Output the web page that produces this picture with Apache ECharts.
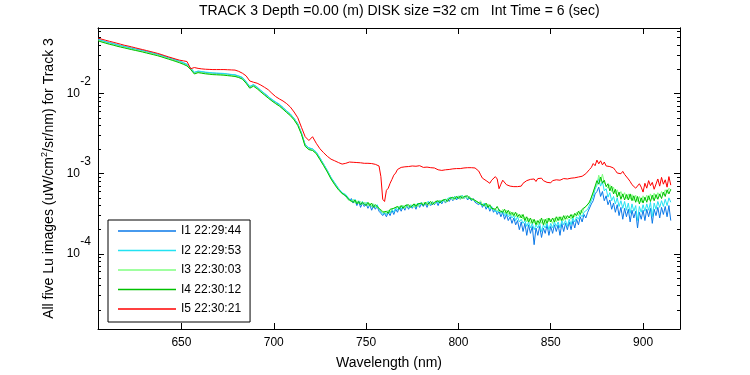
<!DOCTYPE html>
<html>
<head>
<meta charset="utf-8">
<script src="https://cdn.jsdelivr.net/npm/echarts@6/dist/echarts.min.js"></script>
<style>
  html, body { margin: 0; padding: 0; background: #fff; }
  #chart { width: 750px; height: 375px; }
</style>
</head>
<body>
<div id="chart"></div>
<script>
// wavelength grid (nm): 2 nm steps up to 739, 1 nm steps from 740 on
var wavelength = [
  605,607,609,611,613,615,617,619,621,623,
  625,627,629,631,633,635,637,639,641,643,
  645,647,649,651,653,655,657,659,661,663,
  665,667,669,671,673,675,677,679,681,683,
  685,687,689,691,693,695,697,699,701,703,
  705,707,709,711,713,715,717,719,721,723,
  725,727,729,731,733,735,737,739,
  740,741,742,743,744,745,746,747,748,749,
  750,751,752,753,754,755,756,757,758,759,
  760,761,762,763,764,765,766,767,768,769,
  770,771,772,773,774,775,776,777,778,779,
  780,781,782,783,784,785,786,787,788,789,
  790,791,792,793,794,795,796,797,798,799,
  800,801,802,803,804,805,806,807,808,809,
  810,811,812,813,814,815,816,817,818,819,
  820,821,822,823,824,825,826,827,828,829,
  830,831,832,833,834,835,836,837,838,839,
  840,841,842,843,844,845,846,847,848,849,
  850,851,852,853,854,855,856,857,858,859,
  860,861,862,863,864,865,866,867,868,869,
  870,871,872,873,874,875,876,877,878,879,
  880,881,882,883,884,885,886,887,888,889,
  890,891,892,893,894,895,896,897,898,899,
  900,901,902,903,904,905,906,907,908,909,
  910,911,912,913,914,915
];

// Lu values, in units of 1e-4 uW/cm^2/sr/nm
var UNIT = 1e-4;

var lu1 = [
  474,458,444,431,420,408,397,388,379,369,
  361,353,344,335,327,318,310,301,290,281,
  271,262,253,242,231,208,183,190,187,184,
  182,180,179,178,177,175,173,171,165,158,
  140,122,129,120,109,100,92,84,78,73,
  67,60,55,49,42,32,23,21,20.3,18.5,
  15.6,13.1,10.9,8.9,7.6,6.5,5.7,5.2,
  5.0,4.6,4.9,4.3,4.6,4.0,4.5,3.8,4.3,3.9,
  4.2,3.7,4.1,3.5,4.0,3.6,3.9,3.4,3.2,3.0,
  3.2,2.9,3.3,3.0,3.5,3.1,3.6,3.3,3.8,3.4,
  3.9,3.5,4.0,3.6,4.0,3.7,4.1,3.6,4.2,3.8,
  4.2,3.9,4.3,3.8,4.4,4.0,4.4,4.1,4.5,4.0,
  4.6,4.2,4.7,4.3,4.8,4.5,5.0,4.6,5.2,4.7,
  5.2,4.8,5.3,4.9,5.2,4.7,5.1,4.6,4.9,4.4,
  4.6,4.1,4.4,3.8,4.2,3.6,4.0,3.4,3.8,3.3,
  3.6,3.1,3.4,2.9,3.3,2.7,3.1,2.6,2.9,2.4,
  2.8,2.3,2.6,2.0,2.5,1.9,2.4,1.7,2.3,1.8,
  2.2,1.3,2.1,1.7,2.2,1.6,2.1,1.8,2.3,1.7,
  2.2,1.8,2.3,1.9,2.3,1.7,2.4,1.9,2.4,2.0,
  2.5,2.0,2.6,2.1,2.7,2.3,2.9,2.5,3.1,2.8,
  3.3,3.4,4.2,4.6,5.6,6.0,6.8,5.2,6.0,4.6,
  5.3,4.1,4.7,3.6,4.3,3.3,4.1,3.0,3.8,2.7,
  3.7,2.9,3.6,2.5,3.5,2.8,3.4,2.1,3.3,2.7,
  3.5,2.6,3.6,2.9,3.7,2.4,3.6,3.0,3.8,2.8,
  3.8,3.1,3.9,2.9,4.0,2.6
];

var lu2 = [
  479,462,448,435,424,412,401,392,382,373,
  364,356,348,338,330,321,313,303,293,284,
  274,265,255,245,233,210,185,192,189,186,
  184,182,181,180,179,176,174,172,167,160,
  142,123,130,121,110,101,92,85,79,74,
  67,61,56,49,42,32.5,23.1,21,20.5,18.7,
  15.8,13.2,11.0,9.0,7.7,6.6,5.8,5.5,
  5.2,4.8,5.0,4.5,4.8,4.3,4.6,4.2,4.5,4.1,
  4.4,4.1,4.3,3.9,4.2,3.8,4.1,3.6,3.4,3.1,
  3.3,3.1,3.5,3.2,3.6,3.3,3.8,3.5,3.9,3.6,
  4.0,3.7,4.1,3.8,4.1,3.8,4.2,3.9,4.3,4.0,
  4.4,4.0,4.3,4.1,4.5,4.1,4.5,4.2,4.6,4.3,
  4.7,4.4,4.8,4.5,4.9,4.7,5.1,4.8,5.2,4.9,
  5.3,5.0,5.4,5.0,5.3,4.9,5.2,4.8,5.0,4.6,
  4.7,4.3,4.5,4.0,4.3,3.9,4.1,3.6,3.9,3.5,
  3.7,3.3,3.6,3.2,3.4,3.0,3.3,2.9,3.1,2.8,
  3.0,2.6,2.9,2.5,2.7,2.4,2.6,2.2,2.5,2.1,
  2.4,2.0,2.3,2.1,2.4,1.9,2.3,2.1,2.4,2.0,
  2.4,2.1,2.5,2.2,2.5,2.1,2.6,2.3,2.6,2.2,
  2.7,2.3,2.8,2.5,2.9,2.7,3.1,2.9,3.3,3.2,
  3.6,3.8,4.6,5.2,6.4,7.2,8.7,7.0,8.0,6.1,
  6.5,5.1,5.8,4.6,5.2,4.2,5.0,3.9,4.6,3.7,
  4.5,3.5,4.3,3.2,4.2,3.4,4.0,2.6,3.9,3.3,
  4.1,3.4,4.2,3.5,4.4,2.9,4.3,3.6,4.5,3.8,
  4.6,3.9,4.8,4.0,5.0,4.4
];

var lu3 = [
  463,447,433,420,410,398,388,379,369,360,
  352,344,336,327,319,311,302,293,283,274,
  265,256,247,236,225,203,179,186,183,180,
  178,176,175,174,173,171,168,166,161,154,
  137,119,126,117,107,97,89,82,76,71,
  65,59,54,48,41,31.5,22.3,20.3,19.8,18.1,
  15.2,12.8,10.7,8.7,7.4,6.4,5.6,5.3,
  4.8,5.0,4.5,4.8,4.3,4.6,4.2,4.5,4.1,4.4,
  4.3,4.0,4.3,3.9,4.2,3.9,4.1,3.7,3.6,3.4,
  3.4,3.2,3.5,3.3,3.6,3.4,3.8,3.6,3.9,3.7,
  4.0,3.7,4.1,3.8,4.0,4.1,3.8,4.2,3.9,4.2,
  4.0,4.3,4.1,4.4,4.0,4.2,4.5,4.2,4.5,4.3,
  4.6,4.4,4.7,4.4,4.8,4.6,5.0,4.7,5.1,4.9,
  5.2,4.8,5.3,4.9,5.2,4.9,5.2,4.8,5.0,4.6,
  4.8,4.3,4.6,4.1,4.3,3.9,4.2,3.8,4.0,3.6,
  3.8,3.5,3.7,3.3,3.6,3.2,3.5,3.1,3.4,3.0,
  3.3,2.9,3.2,2.8,3.1,2.7,2.9,2.5,2.8,2.4,
  2.7,2.4,2.6,2.3,2.7,2.4,2.7,2.3,2.8,2.5,
  2.7,2.4,2.8,2.5,2.9,2.6,2.9,2.6,3.0,2.7,
  3.0,2.7,3.1,2.9,3.3,3.0,3.5,3.2,3.7,3.5,
  4.1,3.9,5.0,5.2,6.8,7.4,9.6,8.0,9.9,7.7,
  7.8,6.6,7.3,6.0,6.8,5.6,6.3,5.3,6.0,5.1,
  5.8,4.9,5.6,4.8,5.5,4.6,5.4,4.5,5.2,4.4,
  5.3,4.6,5.4,4.7,5.6,4.8,5.7,4.9,5.8,5.2,
  6.0,5.4,6.3,5.7,6.6,6.2
];

var lu4 = [
  456,440,427,414,404,392,382,373,364,355,
  347,339,331,322,314,306,298,289,279,270,
  261,252,243,233,222,200,176,183,180,177,
  175,173,172,171,170,168,166,164,159,152,
  135,117,124,115,105,96,88,81,75,70,
  64,58,53,47,40,31,22,20,19.5,17.8,
  15,12.6,10.5,8.6,7.3,6.3,5.7,5.3,
  5.1,4.7,4.9,4.4,4.7,4.2,4.5,4.1,4.4,4.3,
  4.0,4.4,4.0,4.3,3.8,4.1,3.9,3.7,3.5,3.3,
  3.2,3.4,3.2,3.6,3.4,3.7,3.5,3.9,3.6,4.0,
  3.7,4.0,3.8,4.1,3.8,3.9,4.2,3.9,4.2,4.0,
  4.3,4.0,4.4,4.1,4.2,4.5,4.1,4.4,4.2,4.6,
  4.3,4.6,4.4,4.8,4.5,4.9,4.7,5.1,4.8,5.2,
  4.9,5.3,4.9,5.2,5.0,5.3,4.9,5.1,4.8,4.9,
  4.5,4.7,4.2,4.4,4.0,4.3,3.8,4.1,3.7,3.9,
  3.6,3.9,3.5,3.6,3.3,3.6,3.2,3.5,3.1,3.3,
  3.0,3.3,2.9,3.1,2.8,3.1,2.6,2.9,2.5,2.8,
  2.4,2.7,2.3,2.6,2.4,2.8,2.3,2.7,2.4,2.8,
  2.5,2.8,2.5,2.9,2.6,2.9,2.6,3.0,2.7,3.0,
  2.8,3.1,2.8,3.2,3.0,3.4,3.1,3.6,3.4,3.9,
  3.7,4.4,4.5,5.9,6.0,8.2,7.4,9.1,7.6,8.3,
  6.9,7.5,6.1,7.0,5.6,6.4,5.1,5.9,4.8,5.6,
  4.7,5.5,4.7,5.6,4.6,5.3,4.4,5.2,4.2,5.0,
  4.3,5.1,4.4,5.3,4.5,5.4,4.6,5.5,4.8,5.6,
  4.9,5.9,5.2,6.3,5.6,6.4
];

var lu5 = [
  493,478,464,451,439,427,415,403,394,384,
  374,364,355,346,337,328,319,309,298,288,
  279,270,262,257,252,205,212,207,204,202,
  201,200,200,200,200,199,198,197,190,180,
  167,144,139,135,128,120,112,101,92,86,
  81,75,68,59,50,38,29,26,29,24,
  20.5,18.3,16.5,15.2,14.5,13.8,13.2,13.5,
  13.5,14.0,13.4,13.9,13.3,13.8,13.4,13.7,13.1,13.5,
  13.2,13.5,13.0,13.4,12.8,13.1,12.7,12.5,9.2,4.8,
  4.5,6.2,6.6,7.6,8.5,9.6,10.2,11.3,11.5,12.0,
  11.7,12.2,11.8,12.3,12.0,12.5,12.1,12.4,12.0,12.6,
  12.2,12.0,12.5,12.1,12.4,11.9,12.2,11.8,11.6,11.2,
  11.4,11.0,11.6,11.2,11.7,11.3,11.7,11.5,11.9,11.6,
  11.9,11.6,12.1,11.8,12.2,11.9,12.3,11.9,12.2,11.8,
  11.9,10.8,9.7,8.8,8.4,8.2,8.0,7.6,8.3,8.6,
  9.2,8.6,6.5,7.4,8.3,8.0,7.3,7.6,7.0,7.3,
  6.9,7.3,6.9,7.1,7.0,7.6,7.8,8.2,8.0,8.5,
  8.1,8.6,8.0,8.7,8.4,8.8,8.2,8.5,7.8,8.1,
  7.7,8.2,7.9,8.4,8.0,8.3,8.2,8.7,8.3,8.6,
  8.4,8.8,8.5,8.9,8.6,9.1,8.8,9.3,9.5,10.0,
  10.2,11.3,12.0,13.4,12.6,14.8,13.3,14.5,12.9,14.0,
  12.5,13.2,12.3,13.0,11.8,11.0,10.2,10.8,10.0,10.7,
  9.8,10.2,8.6,8.0,7.3,7.0,6.6,6.3,7.5,6.8,
  5.9,7.6,6.6,8.2,7.1,7.8,6.4,6.1,8.6,7.0,
  9.0,7.4,8.4,6.8,9.2,7.2
];

var seriesNames = ['I1 22:29:44', 'I2 22:29:53', 'I3 22:30:03', 'I4 22:30:12', 'I5 22:30:21'];
var seriesColors = ['#0a78e8', '#22e2f2', '#80ff80', '#00c000', '#ff0000'];
var seriesValues = [lu1, lu2, lu3, lu4, lu5];

var xTicks = [650, 700, 750, 800, 850, 900];
var yMajorTicks = [1e-4, 1e-3, 1e-2];
var yMinorTicks = [
  2e-5, 3e-5, 4e-5, 5e-5, 6e-5, 7e-5, 8e-5, 9e-5,
  2e-4, 3e-4, 4e-4, 5e-4, 6e-4, 7e-4, 8e-4, 9e-4,
  2e-3, 3e-3, 4e-3, 5e-3, 6e-3, 7e-3, 8e-3, 9e-3,
  2e-2, 3e-2, 4e-2, 5e-2, 6e-2
];

var X_MIN = 604.8, X_MAX = 920;
var Y_MIN = 1.15e-5, Y_MAX = 0.0661;
var FONT = 'Liberation Sans';

var myChart = echarts.init(document.getElementById('chart'));

function yAxisCfg(position, ticks, len, withLabels) {
  var cfg = {
    type: 'log',
    logBase: 10,
    position: position,
    min: Y_MIN,
    max: Y_MAX,
    splitLine: { show: false },
    axisLine: { show: true, lineStyle: { color: '#000', width: 1 } },
    axisTick: { show: true, inside: true, length: len, customValues: ticks, lineStyle: { color: '#000' } },
    axisLabel: { show: false }
  };
  if (withLabels) {
    cfg.axisLabel = {
      show: true,
      customValues: yMajorTicks,
      margin: 7,
      formatter: function (v) {
        var e = Math.round(Math.log10(v));
        return '{e|' + e + '}\n{b|10}{p|}\n{e| }';
      },
      rich: {
        e: { fontFamily: FONT, fontSize: 12, lineHeight: 12, color: '#000', align: 'right' },
        b: { fontFamily: FONT, fontSize: 12, lineHeight: 12, color: '#000', align: 'right' },
        p: { width: 11, lineHeight: 12, align: 'right' }
      }
    };
    cfg.name = '{a|All five Lu images (uW/cm}{s|2}{a|/sr/nm) for Track 3}';
    cfg.nameLocation = 'middle';
    cfg.nameGap = 40;
    cfg.nameTextStyle = {
      rich: {
        a: { fontFamily: FONT, fontSize: 14, lineHeight: 18, color: '#000' },
        s: { fontFamily: FONT, fontSize: 9, lineHeight: 11, color: '#000', verticalAlign: 'top' }
      }
    };
  }
  return cfg;
}

function xAxisCfg(position, withLabels) {
  var cfg = {
    type: 'value',
    position: position,
    min: X_MIN,
    max: X_MAX,
    splitLine: { show: false },
    axisLine: { show: true, lineStyle: { color: '#000', width: 1 } },
    axisTick: { show: true, inside: true, length: 6, customValues: xTicks, lineStyle: { color: '#000' } },
    axisLabel: { show: false }
  };
  if (withLabels) {
    cfg.axisLabel = {
      show: true,
      customValues: xTicks,
      margin: 8,
      fontFamily: FONT,
      fontSize: 12,
      color: '#000'
    };
    cfg.name = 'Wavelength (nm)';
    cfg.nameLocation = 'middle';
    cfg.nameGap = 27;
    cfg.nameTextStyle = { fontFamily: FONT, fontSize: 14, color: '#000' };
  }
  return cfg;
}

var option = {
  animation: false,
  backgroundColor: '#fff',
  title: {
    text: 'TRACK 3 Depth =0.00 (m) DISK size =32 cm   Int Time = 6 (sec)',
    left: 199,
    top: 4,
    padding: 0,
    textStyle: { fontFamily: FONT, fontSize: 14, fontWeight: 'normal', color: '#000' }
  },
  grid: { left: 98, top: 28, right: 70, bottom: 44 },
  legend: {
    orient: 'vertical',
    left: 108,
    top: 220,
    selectedMode: false,
    icon: 'rect',
    itemWidth: 58,
    itemHeight: 1.5,
    itemGap: 7.5,
    padding: [5, 9, 7, 10],
    borderColor: '#000',
    borderWidth: 1,
    backgroundColor: '#fff',
    textStyle: { fontFamily: FONT, fontSize: 12, color: '#000' },
    data: seriesNames
  },
  xAxis: [xAxisCfg('bottom', true), xAxisCfg('top', false)],
  yAxis: [
    yAxisCfg('left', yMajorTicks, 6, true),
    yAxisCfg('left', yMinorTicks, 3, false),
    yAxisCfg('right', yMajorTicks, 6, false),
    yAxisCfg('right', yMinorTicks, 3, false)
  ],
  series: seriesValues.map(function (vals, k) {
    return {
      name: seriesNames[k],
      type: 'line',
      xAxisIndex: 0,
      yAxisIndex: 0,
      showSymbol: false,
      symbol: 'none',
      color: seriesColors[k],
      lineStyle: { width: 1, color: seriesColors[k] },
      data: wavelength.map(function (w, i) { return [w, vals[i] * UNIT]; })
    };
  })
};

myChart.setOption(option);
</script>
</body>
</html>
